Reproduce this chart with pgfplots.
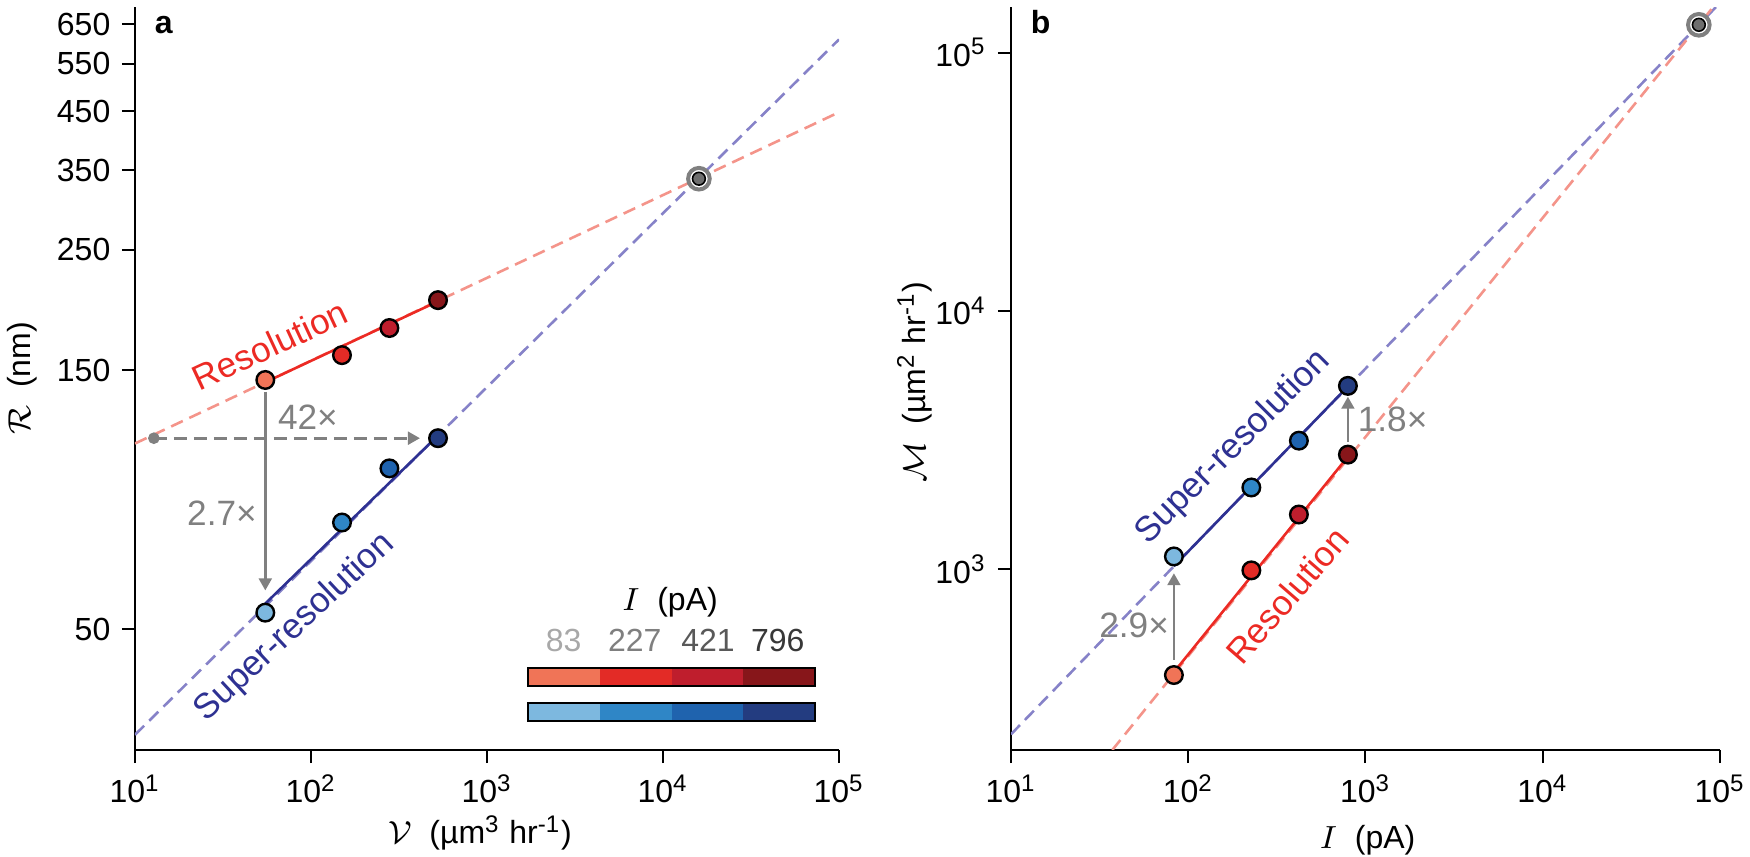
\documentclass[border=0pt]{standalone}
\usepackage{fontspec}
\setmainfont{Liberation Sans}
\usepackage{pgfplots}
\pgfplotsset{compat=1.18}
\usetikzlibrary{arrows.meta}
\definecolor{r1}{HTML}{F07457}
\definecolor{r2}{HTML}{E32B26}
\definecolor{r3}{HTML}{BF1E2D}
\definecolor{r4}{HTML}{87161A}
\definecolor{b1}{HTML}{7DB8DF}
\definecolor{b2}{HTML}{2F86C6}
\definecolor{b3}{HTML}{1F63AE}
\definecolor{b4}{HTML}{233C80}
\definecolor{redline}{HTML}{EC2A24}
\definecolor{blueline}{HTML}{2E3192}
\definecolor{reddash}{HTML}{F4948A}
\definecolor{bluedash}{HTML}{8682C8}
\definecolor{arrgray}{HTML}{808080}
\definecolor{dotgray}{HTML}{6E6E6E}
\definecolor{g1}{HTML}{A8A8A8}
\definecolor{g2}{HTML}{7F7F7F}
\definecolor{g3}{HTML}{595959}
\definecolor{g4}{HTML}{383838}

\pgfplotstableread{
x y c
55 144 a
150 160 b
279 179.5 c
527 202 d
55 53.7 e
150 78.7 f
279 99 g
527 112.5 h
}\ptsA

\pgfplotstableread{
x y c
83 390 a
227 991 b
421 1630 c
796 2780 d
83 1122 e
227 2074 f
421 3148 g
796 5129 h
}\ptsB

\tikzset{
  dashA/.style={line width=0.65pt, dash pattern=on 3.2pt off 1.8pt},
  solidA/.style={line width=0.65pt},
  arr/.style={arrgray, line width=0.65pt, -{Triangle[length=3pt,width=3.2pt]}},
  annot/.style={font=\fontsize{8.8}{10}\selectfont},
}
\pgfplotsset{
  dots/.style={scatter, only marks, mark=*, mark size=2.2pt,
      point meta=explicit symbolic,
      scatter/classes={
        a={mark=*,draw=black,fill=r1,line width=0.6pt},
        b={mark=*,draw=black,fill=r2,line width=0.6pt},
        c={mark=*,draw=black,fill=r3,line width=0.6pt},
        d={mark=*,draw=black,fill=r4,line width=0.6pt},
        e={mark=*,draw=black,fill=b1,line width=0.6pt},
        f={mark=*,draw=black,fill=b2,line width=0.6pt},
        g={mark=*,draw=black,fill=b3,line width=0.6pt},
        h={mark=*,draw=black,fill=b4,line width=0.6pt}}},
}

\begin{document}
\fontsize{8}{9.6}\selectfont
\begin{tikzpicture}
% ---------------- panel a ----------------
\begin{axis}[scale only axis, xmode=log, ymode=log,
  axis lines*=left, tick align=outside, major tick length=3.3pt,
  xminorticks=false, yminorticks=false,
  axis line style={line width=0.55pt},
  every tick/.style={black, line width=0.5pt},
  xmin=10, xmax=100000,
  xtick={10,100,1000,10000,100000},
  xticklabels={10\textsuperscript{1},10\textsuperscript{2},10\textsuperscript{3},10\textsuperscript{4},10\textsuperscript{5}},
  clip mode=individual,
  at={(33.75pt,-187.5pt)}, anchor=south west,
  width=176pt, height=185.75pt,
  ymin=30, ymax=700,
  ytick={50,150,250,350,450,550,650},
  yticklabels={50,150,250,350,450,550,650},
  xlabel={$\mathcal{V}$\ \ (µm\textsuperscript{3} hr\textsuperscript{-1})},
  ylabel={$\mathcal{R}$\ \ (nm)},
  xlabel style={at={(axis description cs:0.49,-0.112)}, anchor=center},
  ylabel style={at={(axis description cs:-0.1605,0.5)}, anchor=center},
]
\addplot[reddash, dashA] coordinates {(10,110) (100000,448)};
\addplot[bluedash, dashA] coordinates {(10,32) (100000,610)};
\addplot[redline, solidA] coordinates {(55,142.6) (527,201)};
\addplot[blueline, solidA] coordinates {(55,55.8) (527,113.8)};
\addplot[arr] coordinates {(55,137) (55,59)};
\addplot[arr, dash pattern=on 3.2pt off 1.8pt] coordinates {(12.8,112.5) (416,112.5)};
\addplot[only marks, mark=*, mark size=1.25pt, color=arrgray] coordinates {(12.8,112.5)};
\addplot[dots] table[x=x,y=y,meta=c] {\ptsA};
\addplot[only marks, mark=*, mark size=2.7pt, mark options={draw=arrgray, fill=white, line width=1pt}] coordinates {(16000,338)};
\addplot[only marks, mark=*, mark size=1.6pt, mark options={draw=none, fill=dotgray}] coordinates {(16000,338)};
\node[annot, rotate=25, text=redline] at (axis cs:58.5,167) {Resolution};
\node[annot, rotate=43, text=blueline] at (axis cs:81,50.4) {Super-resolution};
\node[annot, text=arrgray] at (axis cs:31.2,81.9) {2.7×};
\node[annot, text=arrgray] at (axis cs:96,123) {42×};
\node[anchor=base west, font=\bfseries] at (rel axis cs:0.012,0.965) {a};
% colour key
\node at (rel axis cs:0.760,0.199) {$I$\ \ (pA)};
\node[text=g1] at (rel axis cs:0.609,0.148) {83};
\node[text=g2] at (rel axis cs:0.710,0.148) {227};
\node[text=g3] at (rel axis cs:0.814,0.148) {421};
\node[text=g4] at (rel axis cs:0.913,0.148) {796};
\fill[r1] (rel axis cs:0.5582,0.0861) rectangle (rel axis cs:0.6605,0.1104);
\fill[r2] (rel axis cs:0.6605,0.0861) rectangle (rel axis cs:0.7628,0.1104);
\fill[r3] (rel axis cs:0.7628,0.0861) rectangle (rel axis cs:0.8636,0.1104);
\fill[r4] (rel axis cs:0.8636,0.0861) rectangle (rel axis cs:0.9659,0.1104);
\draw[line width=0.55pt] (rel axis cs:0.5582,0.0861) rectangle (rel axis cs:0.9659,0.1104);
\fill[b1] (rel axis cs:0.5582,0.039) rectangle (rel axis cs:0.6605,0.0633);
\fill[b2] (rel axis cs:0.6605,0.039) rectangle (rel axis cs:0.7628,0.0633);
\fill[b3] (rel axis cs:0.7628,0.039) rectangle (rel axis cs:0.8636,0.0633);
\fill[b4] (rel axis cs:0.8636,0.039) rectangle (rel axis cs:0.9659,0.0633);
\draw[line width=0.55pt] (rel axis cs:0.5582,0.039) rectangle (rel axis cs:0.9659,0.0633);
\end{axis}
% ---------------- panel b ----------------
\begin{axis}[scale only axis, xmode=log, ymode=log,
  axis lines*=left, tick align=outside, major tick length=3.3pt,
  xminorticks=false, yminorticks=false,
  axis line style={line width=0.55pt},
  every tick/.style={black, line width=0.5pt},
  xmin=10, xmax=100000,
  xtick={10,100,1000,10000,100000},
  xticklabels={10\textsuperscript{1},10\textsuperscript{2},10\textsuperscript{3},10\textsuperscript{4},10\textsuperscript{5}},
  clip mode=individual,
  at={(252.75pt,-187.5pt)}, anchor=south west,
  width=177.25pt, height=185.75pt,
  ymin=200, ymax=150000,
  ytick={1000,10000,100000},
  yticklabels={10\textsuperscript{3},10\textsuperscript{4},10\textsuperscript{5}},
  xlabel={$I$\ \ (pA)},
  ylabel={$\mathcal{M}$\ \ (µm\textsuperscript{2} hr\textsuperscript{-1})},
  xlabel style={at={(axis description cs:0.503,-0.121)}, anchor=center},
  ylabel style={at={(axis description cs:-0.136,0.495)}, anchor=center},
]
\addplot[bluedash, dashA] coordinates {(10,230) (95000,150000)};
\addplot[reddash, dashA] coordinates {(37.3,200) (91600,150000)};
\addplot[redline, solidA] coordinates {(83,400) (796,2730)};
\addplot[blueline, solidA] coordinates {(83,1028) (796,5100)};
\addplot[arr] coordinates {(83,446) (83,966)};
\addplot[arr] coordinates {(796,3119) (796,4656)};
\addplot[dots] table[x=x,y=y,meta=c] {\ptsB};
\addplot[only marks, mark=*, mark size=2.7pt, mark options={draw=arrgray, fill=white, line width=1pt}] coordinates {(76000,128000)};
\addplot[only marks, mark=*, mark size=1.6pt, mark options={draw=none, fill=dotgray}] coordinates {(76000,128000)};
\node[annot, rotate=45, text=blueline] at (axis cs:179.5,2959) {Super-resolution};
\node[annot, rotate=49, text=redline] at (axis cs:362,794) {Resolution};
\node[annot, text=arrgray] at (axis cs:49.5,608) {2.9×};
\node[annot, text=arrgray] at (axis cs:1422,3795) {1.8×};
\node[anchor=base west, font=\bfseries] at (rel axis cs:0.012,0.965) {b};
\end{axis}
\pgfresetboundingbox
\path[use as bounding box] (0,0) rectangle (437.5pt,-214.25pt);
\end{tikzpicture}
\end{document}
